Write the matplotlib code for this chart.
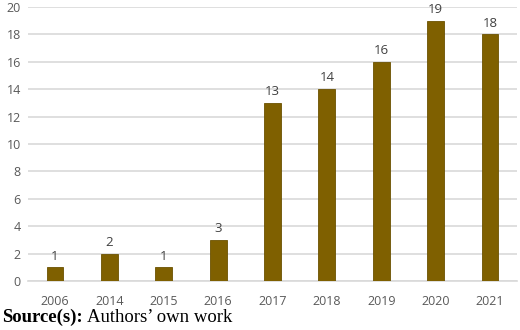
import numpy as np
import matplotlib
matplotlib.use('agg')
import matplotlib.pyplot as plt

# DATA
years = ['2006', '2014', '2015', '2016', '2017', '2018', '2019', '2020', '2021']
counts = [1, 2, 1, 3, 13, 14, 16, 19, 18]
yticks = [0, 2, 4, 6, 8, 10, 12, 14, 16, 18, 20]

barcolor = '#7F6000'
textcolor = '#595959'

fig = plt.figure(figsize=(5.2, 3.3), dpi=100)
ax = fig.add_axes([0.0535, 0.148, 0.941, 0.831])

x = np.arange(len(years))
ax.bar(x, counts, width=0.31, color=barcolor, edgecolor='#6B5100', linewidth=0.6, zorder=3)
for xi, v in zip(x, counts):
    ax.text(xi, v + 0.35, str(v), ha='center', va='bottom', fontsize=9.5,
            color='#404040', family='Open Sans', zorder=4)

ax.set_xlim(-0.5, len(years) - 0.5)
ax.set_ylim(0, 20)
ax.set_yticks(yticks)
ax.set_xticks(x)
ax.set_xticklabels(years)
ax.yaxis.grid(True, color='#D9D9D9', linewidth=1.2, zorder=0)
ax.set_axisbelow(True)
for s in ['top', 'right', 'left']:
    ax.spines[s].set_visible(False)
ax.spines['bottom'].set_color('#D9D9D9')
ax.spines['bottom'].set_linewidth(1.2)
ax.tick_params(axis='both', length=0, labelsize=9, labelcolor=textcolor, pad=5)
ax.tick_params(axis='x', pad=10)
for lab in ax.get_xticklabels() + ax.get_yticklabels():
    lab.set_family('Open Sans')

# source line: bold label followed by normal text
t = fig.text(0.004, 0.025, 'Source(s):', fontsize=13.5, family='Liberation Serif',
             weight='bold', va='baseline')
fig.canvas.draw()
bb = t.get_window_extent()
fig.text((bb.x1 + 4) / fig.bbox.width, 0.025, 'Authors\u2019 own work', fontsize=13.5,
         family='Liberation Serif', va='baseline')

plt.savefig('out.png', dpi=100)
